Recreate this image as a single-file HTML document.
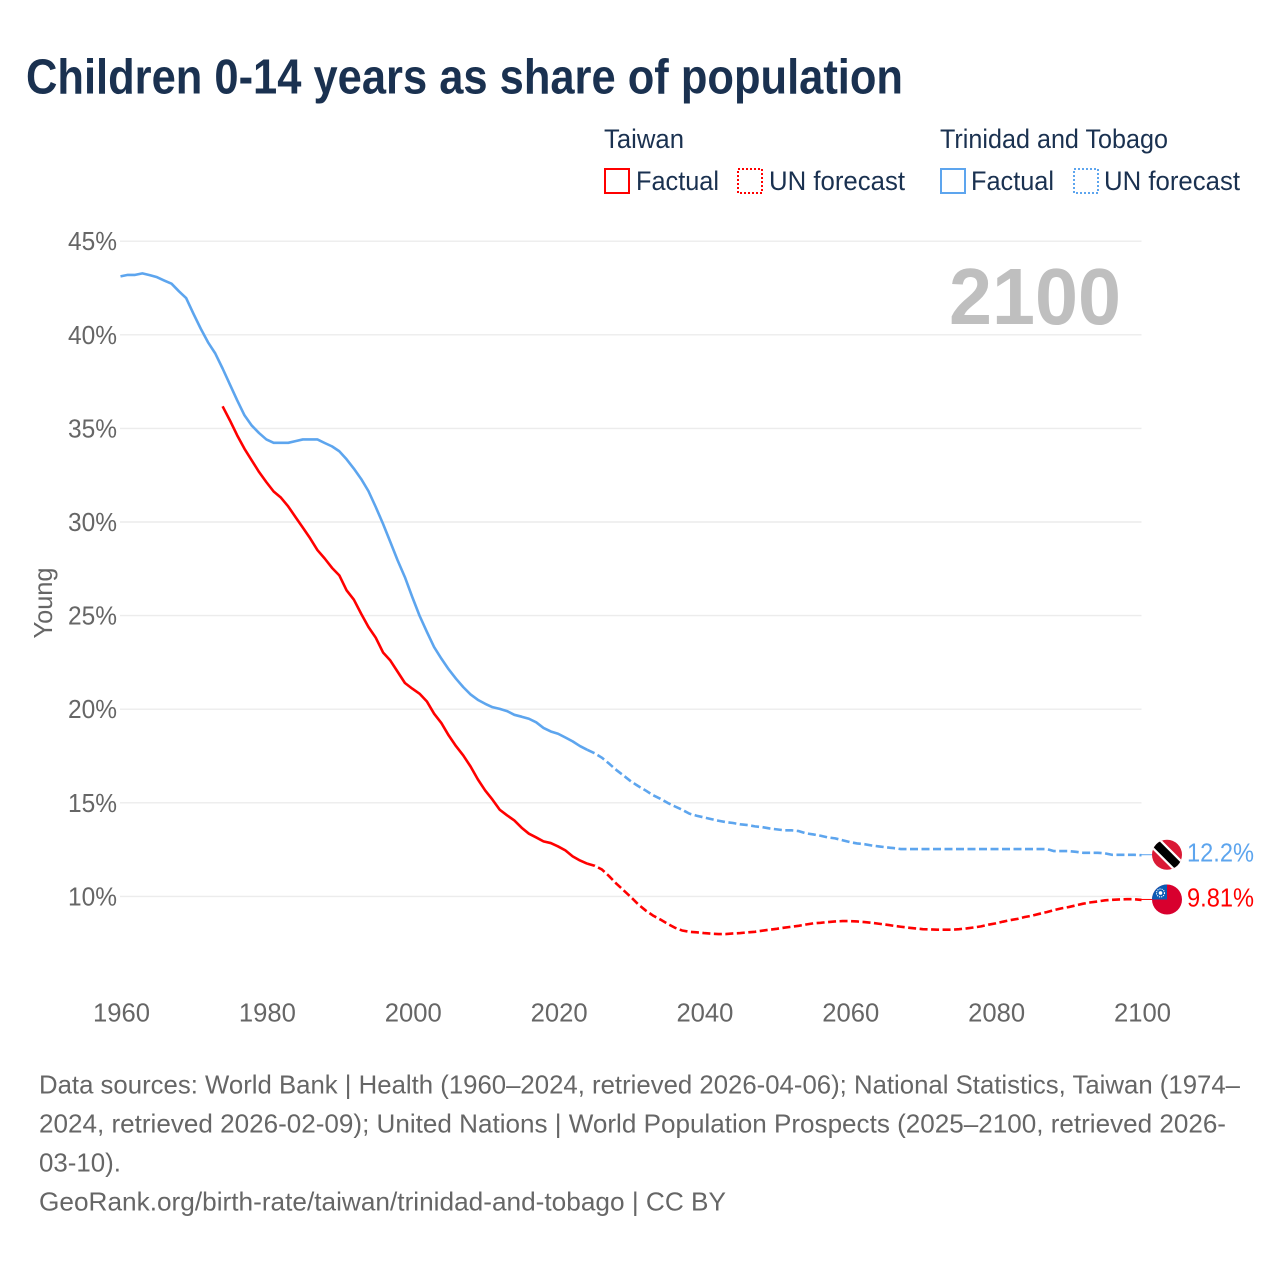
<!DOCTYPE html>
<html lang="en">
<head>
<meta charset="utf-8">
<title>Children 0-14 years as share of population</title>
<style>
html,body{margin:0;padding:0;background:#fff;}
svg{display:block;font-family:"Liberation Sans",sans-serif;}
</style>
</head>
<body>
<svg id="chart" xmlns="http://www.w3.org/2000/svg" width="1280" height="1280" viewBox="0 0 1280 1280">
  <defs>
    <clipPath id="flag-clip-a"><circle cx="0" cy="0" r="15"/></clipPath>
  </defs>
  <rect x="0" y="0" width="1280" height="1280" fill="#fff"/>
  <text x="26" y="93.5" font-size="49" font-weight="700" fill="#1a3150" textLength="877" lengthAdjust="spacingAndGlyphs">Children 0-14 years as share of population</text>

  <g font-size="26.5" fill="#1a3150">
    <text x="604" y="148" textLength="80" lengthAdjust="spacingAndGlyphs">Taiwan</text>
    <text x="940" y="148" textLength="228" lengthAdjust="spacingAndGlyphs">Trinidad and Tobago</text>
    <rect x="605" y="169" width="24" height="24" fill="none" stroke="#ff0000" stroke-width="2"/>
    <text x="636" y="190" textLength="83" lengthAdjust="spacingAndGlyphs">Factual</text>
    <rect x="738" y="169" width="24" height="24" fill="none" stroke="#ff0000" stroke-width="2" stroke-dasharray="2 2"/>
    <text x="769" y="190" textLength="136" lengthAdjust="spacingAndGlyphs">UN forecast</text>
    <rect x="941" y="169" width="24" height="24" fill="none" stroke="#5da5ee" stroke-width="2"/>
    <text x="971" y="190" textLength="83" lengthAdjust="spacingAndGlyphs">Factual</text>
    <rect x="1074" y="169" width="24" height="24" fill="none" stroke="#5da5ee" stroke-width="2" stroke-dasharray="2 2"/>
    <text x="1104" y="190" textLength="136" lengthAdjust="spacingAndGlyphs">UN forecast</text>
  </g>

  <g id="grid"></g>
  <g id="y-ticks" font-size="26" fill="#666"></g>
  <g id="x-ticks" font-size="26" fill="#666"></g>
  <text transform="translate(52,603) rotate(-90)" text-anchor="middle" font-size="26" fill="#666" textLength="71" lengthAdjust="spacingAndGlyphs">Young</text>
  <text x="949" y="324" font-size="80" font-weight="700" fill="#bfbfbf" textLength="172" lengthAdjust="spacingAndGlyphs">2100</text>

  <g id="series"></g>

  <g id="flag-trinidad">
    <g clip-path="url(#flag-clip-a)">
      <rect x="-16" y="-16" width="32" height="32" fill="#da1a35"/>
      <line x1="-16" y1="-16" x2="16" y2="16" stroke="#fff" stroke-width="13"/>
      <line x1="-16" y1="-16" x2="16" y2="16" stroke="#000" stroke-width="8.5"/>
    </g>
  </g>
  <g id="flag-taiwan">
    <g clip-path="url(#flag-clip-a)">
      <rect x="-16" y="-16" width="32" height="32" fill="#d8002e"/>
      <rect x="-16" y="-16" width="16" height="16" fill="#0a5bb5"/>
      <circle cx="-6.5" cy="-6.5" r="4" fill="none" stroke="#fff" stroke-width="1.1" stroke-dasharray="1.2 1"/>
      <circle cx="-6.5" cy="-6.5" r="1.8" fill="#fff"/>
    </g>
  </g>
  <g id="end-labels" font-size="26"></g>

  <g font-size="26" fill="#666">
    <text x="39" y="1093.5" textLength="1201" lengthAdjust="spacingAndGlyphs">Data sources: World Bank | Health (1960–2024, retrieved 2026-04-06); National Statistics, Taiwan (1974–</text>
    <text x="39" y="1132.5" textLength="1187" lengthAdjust="spacingAndGlyphs">2024, retrieved 2026-02-09); United Nations | World Population Prospects (2025–2100, retrieved 2026-</text>
    <text x="39" y="1171.5" textLength="82" lengthAdjust="spacingAndGlyphs">03-10).</text>
    <text x="39" y="1210.5" textLength="687" lengthAdjust="spacingAndGlyphs">GeoRank.org/birth-rate/taiwan/trinidad-and-tobago | CC BY</text>
  </g>
</svg>
<script>
var xTickYears = [1960, 1980, 2000, 2020, 2040, 2060, 2080, 2100];
var yTickValues = [10, 15, 20, 25, 30, 35, 40, 45];
var endLabels = ["12.2%", "9.81%"];

var trinidadFactualStart = 1960;
var trinidadFactual = [
  43.12,43.2,43.2,43.28,43.19,43.08,42.9,42.73,42.33,41.96,
  41.13,40.33,39.6,39.0,38.2,37.35,36.5,35.7,35.15,34.75,
  34.41,34.23,34.23,34.23,34.32,34.41,34.41,34.41,34.22,34.04,
  33.78,33.35,32.85,32.3,31.65,30.8,29.9,28.93,27.95,27.05,
  26.0,25.0,24.14,23.32,22.7,22.13,21.63,21.18,20.79,20.5,
  20.29,20.11,20.02,19.9,19.7,19.6,19.49,19.3,19.0,18.81,
  18.69,18.49,18.28,18.03,17.83
];
var trinidadForecastStart = 2025;
var trinidadForecast = [
  17.65,17.41,17.09,16.75,16.45,
  16.14,15.89,15.66,15.41,15.22,15.0,14.81,14.63,14.42,14.31,
  14.22,14.13,14.04,13.97,13.92,13.85,13.81,13.74,13.7,13.63,
  13.58,13.53,13.53,13.49,13.37,13.31,13.24,13.15,13.1,13.0,
  12.9,12.83,12.79,12.72,12.67,12.62,12.58,12.53,12.53,12.53,
  12.53,12.53,12.53,12.53,12.53,12.53,12.53,12.53,12.53,12.53,
  12.53,12.53,12.53,12.53,12.53,12.53,12.53,12.53,12.42,12.42,
  12.42,12.38,12.33,12.33,12.33,12.3,12.22,12.22,12.22,12.22,
  12.2
];
var taiwanFactualStart = 1974;
var taiwanFactual = [
  36.18,35.43,34.63,33.91,33.29,32.67,
  32.13,31.63,31.3,30.83,30.26,29.7,29.13,28.5,28.05,27.55,
  27.15,26.35,25.85,25.1,24.39,23.82,23.03,22.6,22.0,21.4,
  21.1,20.83,20.42,19.76,19.26,18.6,18.03,17.53,16.94,16.25,
  15.66,15.17,14.63,14.33,14.06,13.67,13.35,13.15,12.94,12.85,
  12.67,12.46,12.14,11.92,11.75
];
var taiwanForecastStart = 2025;
var taiwanForecast = [
  11.64,11.44,11.08,10.68,10.32,
  9.96,9.57,9.25,8.98,8.77,8.54,8.33,8.18,8.11,8.08,
  8.04,8.01,7.99,7.99,8.02,8.04,8.08,8.11,8.17,8.22,
  8.27,8.33,8.38,8.43,8.5,8.56,8.59,8.63,8.66,8.68,
  8.68,8.66,8.63,8.59,8.54,8.49,8.43,8.38,8.33,8.29,
  8.25,8.24,8.22,8.22,8.22,8.25,8.29,8.34,8.4,8.49,
  8.56,8.65,8.73,8.8,8.9,8.97,9.07,9.16,9.27,9.36,
  9.43,9.52,9.61,9.68,9.73,9.79,9.82,9.84,9.85,9.85,
  9.81
];

var SVG_NS = "http://www.w3.org/2000/svg";
function xScale(year) { return 120.5 + (year - 1960) * 7.293; }
function yScale(value) { return 896.4 + (10 - value) * 18.72; }
function linePath(startYear, values, prefix) {
  var d = prefix || "";
  for (var i = 0; i < values.length; i++) {
    d += (d ? "L" : "M") + xScale(startYear + i).toFixed(2) + " " + yScale(values[i]).toFixed(2);
  }
  return d;
}

var gridGroup = document.getElementById("grid");
var yTickGroup = document.getElementById("y-ticks");
yTickValues.forEach(function (v) {
  var line = document.createElementNS(SVG_NS, "line");
  
  
  line.setAttribute("x1", 120);
  line.setAttribute("x2", 1141.5);
  line.setAttribute("y1", yScale(v));
  line.setAttribute("y2", yScale(v));
  line.setAttribute("stroke", "#ececec");
  line.setAttribute("stroke-width", "1.4");
  gridGroup.appendChild(line);

  var label = document.createElementNS(SVG_NS, "text");
  
  
  label.setAttribute("x", 117);
  label.setAttribute("y", yScale(v) + 9);
  label.setAttribute("text-anchor", "end");
  label.setAttribute("textLength", 49);
  label.setAttribute("lengthAdjust", "spacingAndGlyphs");
  label.textContent = v + "%";
  yTickGroup.appendChild(label);
});

var xTickGroup = document.getElementById("x-ticks");
xTickYears.forEach(function (year) {
  var label = document.createElementNS(SVG_NS, "text");
  
  
  label.setAttribute("x", xScale(year) + 1);
  label.setAttribute("y", 1021.5);
  label.setAttribute("text-anchor", "middle");
  label.setAttribute("textLength", 57);
  label.setAttribute("lengthAdjust", "spacingAndGlyphs");
  label.textContent = String(year);
  xTickGroup.appendChild(label);
});

var seriesGroup = document.getElementById("series");
function addLine(name, d, color, dashed) {
  var path = document.createElementNS(SVG_NS, "path");
  
  
  path.setAttribute("d", d);
  path.setAttribute("fill", "none");
  path.setAttribute("stroke", color);
  path.setAttribute("stroke-width", "2.6");
  path.setAttribute("stroke-linejoin", "round");
  if (dashed) { path.setAttribute("stroke-dasharray", "8 3.5"); }
  seriesGroup.appendChild(path);
}
function lastPointPrefix(startYear, values) {
  var i = values.length - 1;
  return "M" + xScale(startYear + i).toFixed(2) + " " + yScale(values[i]).toFixed(2);
}
addLine("line-trinidad-factual", linePath(trinidadFactualStart, trinidadFactual), "#5da5ee", false);
addLine("line-trinidad-forecast", linePath(trinidadForecastStart, trinidadForecast, lastPointPrefix(trinidadFactualStart, trinidadFactual)), "#5da5ee", true);
addLine("line-taiwan-factual", linePath(taiwanFactualStart, taiwanFactual), "#ff0000", false);
addLine("line-taiwan-forecast", linePath(taiwanForecastStart, taiwanForecast, lastPointPrefix(taiwanFactualStart, taiwanFactual)), "#ff0000", true);

var endSeries = [
  { key: "trinidad", color: "#5da5ee", value: trinidadForecast[trinidadForecast.length - 1], flag: "flag-trinidad", text: endLabels[0] },
  { key: "taiwan", color: "#ff0000", value: taiwanForecast[taiwanForecast.length - 1], flag: "flag-taiwan", text: endLabels[1] }
];
var endGroup = document.getElementById("end-labels");
endSeries.forEach(function (s) {
  var y = yScale(s.value);
  document.getElementById(s.flag).setAttribute("transform", "translate(1167," + (y - 0.5) + ")");

  var leader = document.createElementNS(SVG_NS, "line");
  
  
  leader.setAttribute("x1", xScale(2100));
  leader.setAttribute("x2", 1152);
  leader.setAttribute("y1", y - 0.5);
  leader.setAttribute("y2", y - 0.5);
  leader.setAttribute("stroke", s.color);
  leader.setAttribute("stroke-width", "1");
  endGroup.appendChild(leader);

  var label = document.createElementNS(SVG_NS, "text");
  
  
  label.setAttribute("x", 1187);
  label.setAttribute("y", y + 6.5);
  label.setAttribute("fill", s.color);
  label.setAttribute("textLength", 67);
  label.setAttribute("lengthAdjust", "spacingAndGlyphs");
  label.textContent = s.text;
  endGroup.appendChild(label);
});
</script>
</body>
</html>
